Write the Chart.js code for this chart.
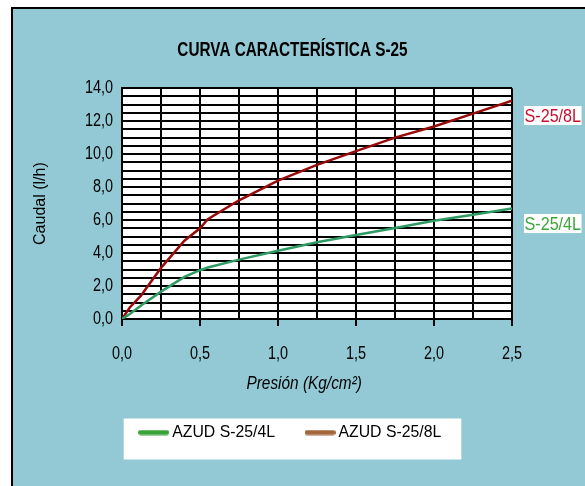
<!DOCTYPE html>
<html>
<head>
<meta charset="utf-8">
<script src="https://cdn.jsdelivr.net/npm/chart.js@4/dist/chart.umd.min.js"></script>
<style>
html,body{margin:0;padding:0;background:#fff;}
#wrap{width:585px;height:486px;position:relative;}
canvas{display:block;}
</style>
</head>
<body>
<div id="wrap"><canvas id="c" width="585" height="486"></canvas></div>
<script>
// ---- data ----
const pressure = [0, 0.05, 0.12, 0.25, 0.4, 0.5, 0.55, 0.75, 1.0, 1.25, 1.5, 1.75, 2.0, 2.25, 2.5];
const flow4L   = [0, 0.3, 0.8, 1.66, 2.55, 2.96, 3.12, 3.6, 4.14, 4.65, 5.09, 5.52, 5.96, 6.33, 6.7];
const flow8L   = [0, 0.7, 1.4, 3.1, 4.75, 5.5, 6.05, 7.2, 8.4, 9.35, 10.18, 11.0, 11.68, 12.46, 13.25];
const seriesNames = ['AZUD S-25/4L', 'AZUD S-25/8L'];
const endLabels = ['S-25/4L', 'S-25/8L'];
const chartTitle = 'CURVA CARACTERÍSTICA S-25';
const xTitle = 'Presión (Kg/cm²)';
const yTitle = 'Caudal (l/h)';
const xMin = 0, xMax = 2.5, xStep = 0.25, xLabelEvery = 0.5;
const yMin = 0, yMax = 14, yStep = 0.5, yLabelEvery = 2;

// ---- styles ----
const BG = '#92C9D5';
const SANS = "'Liberation Sans', Arial, sans-serif";
// condensed text: a marker family "SqXnn" tells the canvas to squeeze the text to nn% width
const sq = n => "SqX" + n + ", 'Liberation Sans', Arial, sans-serif";
const lineColors = ['#2F9A63', '#960A0A'];
const legendColors = ['#39A23A', '#A2673A'];
const labelColors = ['#3DA53D', '#C8102E'];
const xTitlePad = '\u00A0'.repeat(6); // shifts the centred axis title slightly left, as in the reference

const fmt = v => v.toFixed(1).replace('.', ',');
const isMult = (v, m) => Math.abs(v / m - Math.round(v / m)) < 1e-6;
const toPts = ys => pressure.map((x, i) => ({x: x, y: ys[i]}));

// ---- canvas with horizontally condensed text support ----
const canvas = document.getElementById('c');
const cx = canvas.getContext('2d');
const origFill = cx.fillText.bind(cx);
const origMeasure = cx.measureText.bind(cx);
const squeeze = () => { const m = /SqX(\d+)/.exec(cx.font); return m ? (+m[1]) / 100 : 1; };
cx.fillText = function (t, x, y, maxW) {
  const k = squeeze();
  if (k === 1) {
    if (maxW === undefined || maxW === null) origFill(t, x, y); else origFill(t, x, y, maxW);
    return;
  }
  cx.save();
  cx.translate(x, y);
  cx.scale(k, 1);
  if (maxW === undefined || maxW === null) origFill(t, 0, 0); else origFill(t, 0, 0, maxW / k);
  cx.restore();
};
cx.measureText = function (t) {
  const k = squeeze();
  const m = origMeasure(t);
  if (k === 1) return m;
  return {
    width: m.width * k,
    actualBoundingBoxLeft: m.actualBoundingBoxLeft * k,
    actualBoundingBoxRight: m.actualBoundingBoxRight * k,
    actualBoundingBoxAscent: m.actualBoundingBoxAscent,
    actualBoundingBoxDescent: m.actualBoundingBoxDescent,
    fontBoundingBoxAscent: m.fontBoundingBoxAscent,
    fontBoundingBoxDescent: m.fontBoundingBoxDescent
  };
};

// legend marks: rounded thick line segments
function legendLine(color) {
  const c = document.createElement('canvas');
  c.width = 31; c.height = 6;
  const g = c.getContext('2d');
  g.strokeStyle = color; g.lineWidth = 5; g.lineCap = 'round';
  g.beginPath(); g.moveTo(2.5, 3); g.lineTo(28.5, 3); g.stroke();
  return c;
}
const legendMarks = legendColors.map(legendLine);

const framePlugin = {
  id: 'frame',
  beforeDraw(chart) {
    const ctx = chart.ctx;
    const {left, top, right, bottom} = chart.chartArea;
    ctx.save();
    ctx.fillStyle = '#ffffff';
    ctx.fillRect(0, 0, chart.width, chart.height);
    ctx.fillStyle = BG;
    ctx.fillRect(12, 8, chart.width, chart.height);
    ctx.strokeStyle = '#000';
    ctx.lineWidth = 2;
    ctx.beginPath();
    ctx.moveTo(12, chart.height + 5);
    ctx.lineTo(12, 8);
    ctx.lineTo(chart.width + 5, 8);
    ctx.stroke();
    ctx.fillStyle = '#ffffff';
    ctx.fillRect(left, top, right - left, bottom - top);
    const lg = chart.legend;
    if (lg && lg.legendHitBoxes && lg.legendHitBoxes.length) {
      const hb = lg.legendHitBoxes;
      const h0 = hb[0], hn = hb[hb.length - 1];
      const l = h0.left - 20;
      const r = hn.left + hn.width + 20;
      const cy = h0.top + h0.height / 2;
      ctx.fillStyle = '#ffffff';
      ctx.fillRect(l, cy - 14, r - l, 41);
    }
    ctx.restore();
  },
  afterDatasetsDraw(chart) {
    const ctx = chart.ctx;
    ctx.save();
    ctx.font = '19px ' + sq(85);
    ctx.textBaseline = 'middle';
    ctx.textAlign = 'left';
    chart.data.datasets.forEach((ds, i) => {
      const meta = chart.getDatasetMeta(i);
      const last = meta.data[meta.data.length - 1];
      const y = last.y + 15;
      const x = chart.chartArea.right + 12;
      const w = ctx.measureText(endLabels[i]).width + 1;
      ctx.fillStyle = '#ffffff';
      ctx.fillRect(x, y - 9.5, w, 19);
      ctx.fillStyle = labelColors[i];
      ctx.fillText(endLabels[i], x + 0.5, y + 1);
    });
    ctx.restore();
  }
};

new Chart(canvas, {
  type: 'line',
  data: {
    datasets: [
      {label: seriesNames[0], data: toPts(flow4L), borderColor: lineColors[0], borderWidth: 2.5, pointRadius: 0, tension: 0, fill: false},
      {label: seriesNames[1], data: toPts(flow8L), borderColor: lineColors[1], borderWidth: 2.5, pointRadius: 0, tension: 0, fill: false}
    ]
  },
  options: {
    responsive: false,
    animation: false,
    events: [],
    layout: {padding: {left: 0, right: 0, top: 0, bottom: 35}},
    scales: {
      x: {
        type: 'linear', min: xMin, max: xMax,
        afterFit: s => { s.height = 70; },
        grid: {
          color: '#000', lineWidth: 2, drawTicks: true, tickLength: 7, tickWidth: 2,
          tickColor: c => (c.tick && isMult(c.tick.value, xLabelEvery)) ? '#000' : 'rgba(0,0,0,0)'
        },
        border: {display: true, color: '#000', width: 2},
        ticks: {
          stepSize: xStep, autoSkip: false, maxRotation: 0, padding: 16,
          color: '#000', font: {family: sq(76), size: 19},
          callback: v => isMult(v, xLabelEvery) ? fmt(v) : ''
        },
        title: {
          display: true, text: xTitle + xTitlePad, color: '#000',
          font: {family: sq(81), size: 19, style: 'italic'},
          padding: {top: 0, bottom: -6}
        }
      },
      y: {
        type: 'linear', min: yMin, max: yMax, position: 'left',
        afterFit: s => { s.width = 122; },
        grid: {color: '#000', lineWidth: 2, drawTicks: false},
        border: {display: true, color: '#000', width: 2},
        ticks: {
          stepSize: yStep, autoSkip: false, padding: 9,
          color: '#000', font: {family: sq(76), size: 19},
          callback: v => isMult(v, yLabelEvery) ? fmt(v) : ''
        },
        title: {
          display: true, text: yTitle, color: '#000',
          font: {family: SANS, size: 16},
          padding: {top: 31, bottom: 0}
        }
      },
      yr: {
        type: 'linear', position: 'right', min: yMin, max: yMax,
        afterFit: s => { s.width = 73; },
        grid: {display: false, drawTicks: false}, border: {display: false},
        ticks: {display: false}
      }
    },
    plugins: {
      title: {
        display: true, text: chartTitle, color: '#000',
        font: {family: sq(73), size: 21, weight: 'bold'},
        padding: {top: 38, bottom: 25}
      },
      legend: {
        display: true, position: 'bottom',
        labels: {
          font: {family: sq(93), size: 17}, color: '#000',
          usePointStyle: true, pointStyleWidth: 20, boxHeight: 6, padding: 35,
          generateLabels: chart => chart.data.datasets.map((ds, i) => ({
            text: ds.label, pointStyle: legendMarks[i], fillStyle: legendColors[i],
            strokeStyle: legendColors[i], lineWidth: 0, datasetIndex: i, hidden: false
          }))
        }
      },
      tooltip: {enabled: false}
    }
  },
  plugins: [framePlugin]
});
</script>
</body>
</html>
